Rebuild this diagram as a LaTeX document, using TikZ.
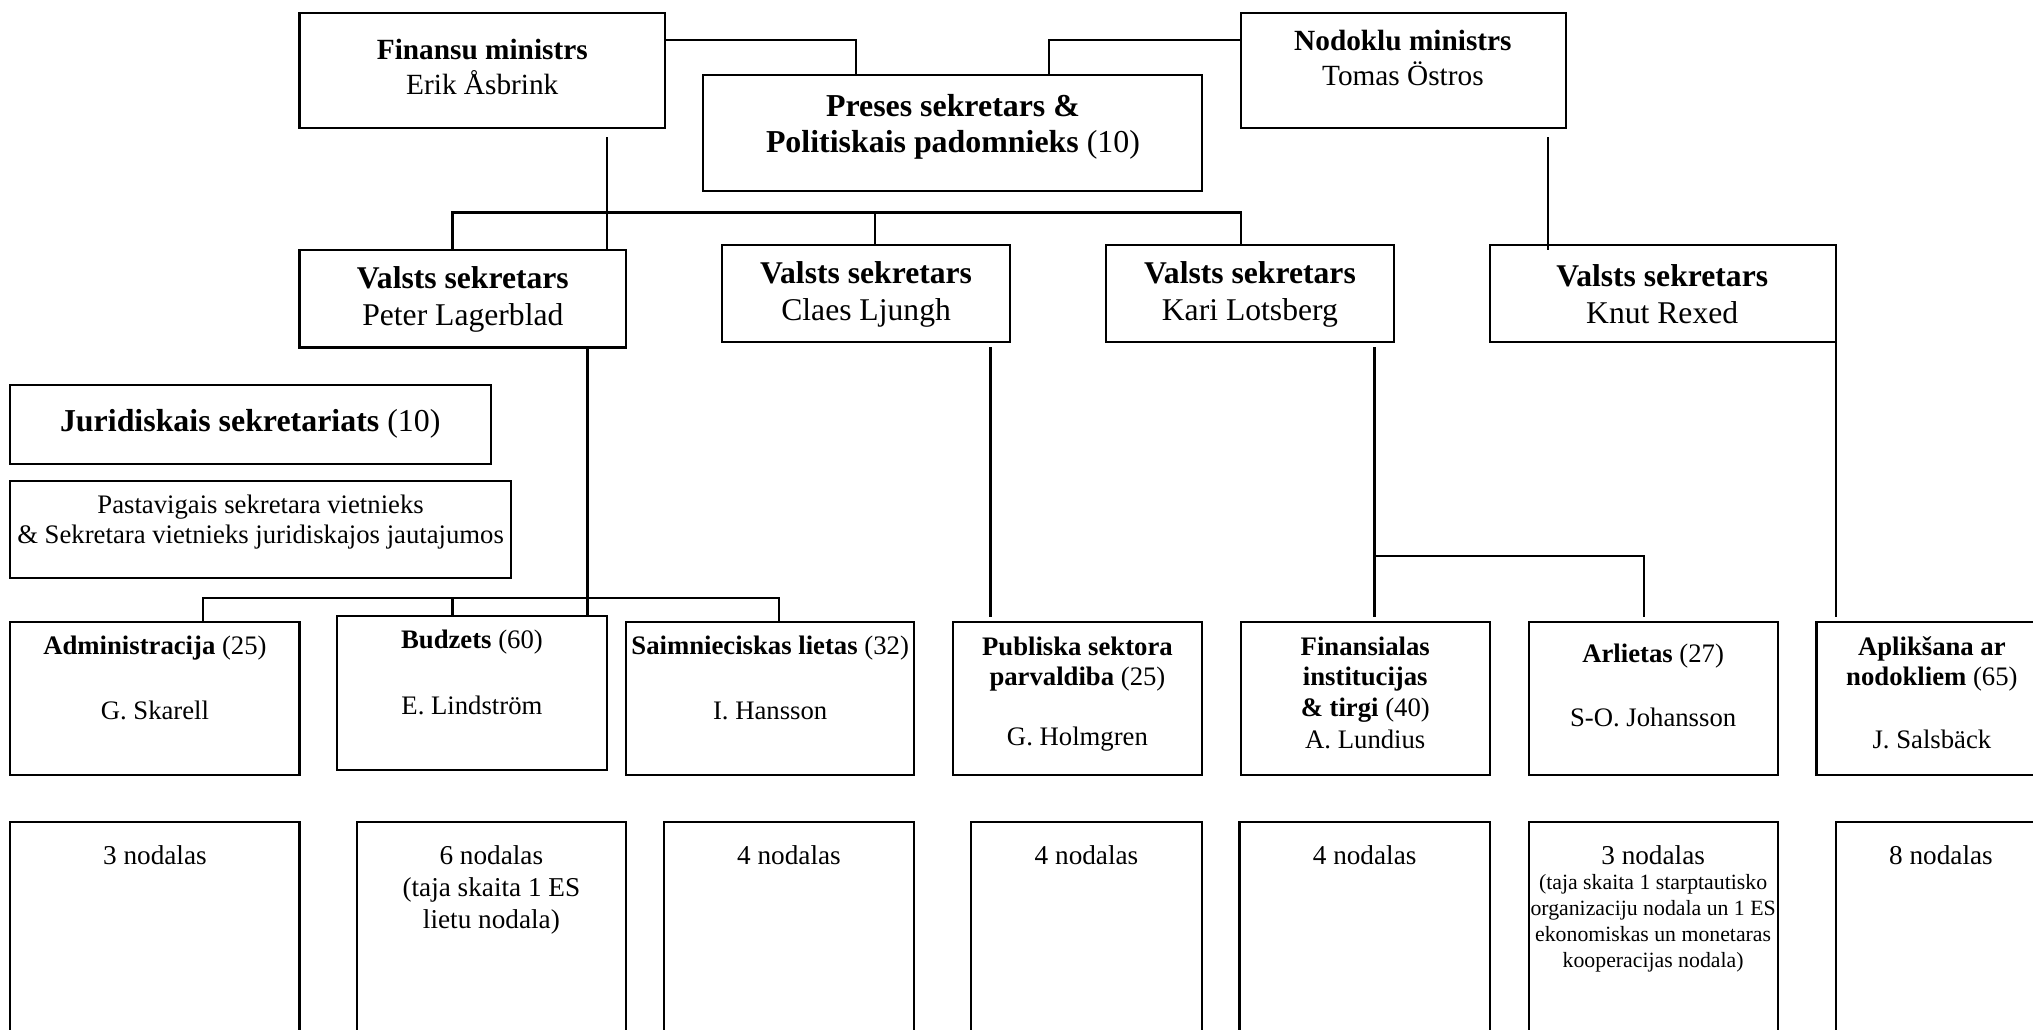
\documentclass[tikz,border=0pt]{standalone}
\usepackage{fontspec}
\setmainfont{Liberation Serif}
\usetikzlibrary{fit}
\newcommand{\fMin}{\fontsize{11.3}{13.5}\selectfont}
\newcommand{\fPre}{\fontsize{12.3}{14}\selectfont}
\newcommand{\fVal}{\fontsize{12.2}{14.5}\selectfont}
\newcommand{\fSmall}{\fontsize{10.3}{11.6}\selectfont}
\newcommand{\fDep}{\fontsize{10.3}{11.7}\selectfont}
\newcommand{\fBot}{\fontsize{10.5}{12.2}\selectfont}
\newcommand{\fTiny}{\fontsize{8.4}{10}\selectfont}
\begin{document}
\begin{tikzpicture}[x=0.5pt,y=-0.5pt,
  box/.style={draw,line width=0.8pt,inner sep=0pt,outer sep=0pt},
  txt/.style={align=center,inner sep=0pt},
  conn/.style={line width=0.9pt}]
\useasboundingbox (0,0) rectangle (1568,794);
\clip (0,0) rectangle (1568,794);
\fill[white] (0,0) rectangle (1568,794);
% row 0
\node[box,fit={(231,10) (513,99)}] (fin) {};
\node[box,fit={(542,58) (927,147)}] (pres) {};
\node[box,fit={(957,10) (1208,99)}] (nod) {};
\node[txt,font=\fMin] (fint) at (372,52) {\textbf{Finansu ministrs}\\Erik Åsbrink};
\node[txt,font=\fPre] (prest) at (735,98) {\textbf{Preses sekretars \&}\\\textbf{Politiskais padomnieks} (10)};
\node[txt,font=\fMin] (nodt) at (1082,45) {\textbf{Nodoklu ministrs}\\Tomas Östros};
% row 1
\node[box,fit={(231,193) (483,268)}] (vs1) {};
\node[box,fit={(557,189) (779,264)}] (vs2) {};
\node[box,fit={(853,189) (1075,264)}] (vs3) {};
\node[box,fit={(1149,189) (1416,264)}] (vs4) {};
\node[txt,font=\fVal] (vs1t) at (357,231) {\textbf{Valsts sekretars}\\Peter Lagerblad};
\node[txt,font=\fVal] (vs2t) at (668,227) {\textbf{Valsts sekretars}\\Claes Ljungh};
\node[txt,font=\fVal] (vs3t) at (964,227) {\textbf{Valsts sekretars}\\Kari Lotsberg};
\node[txt,font=\fVal] (vs4t) at (1282,227) {\textbf{Valsts sekretars}\\Knut Rexed};
% left boxes
\node[box,fit={(8,297) (379,358)}] (jur) {};
\node[txt,font=\fPre] (jurt) at (193,327) {\textbf{Juridiskais sekretariats} (10)};
\node[box,fit={(8,371) (394,446)}] (pas) {};
\node[txt,font=\fSmall] (past) at (201,403) {Pastavigais sekretara vietnieks\\\& Sekretara vietnieks juridiskajos jautajumos};
% row 2
\node[box,fit={(8,480) (231,598)}] (d1) {};
\node[box,fit={(260,475) (468,594)}] (d2) {};
\node[box,fit={(483,480) (705,598)}] (d3) {};
\node[box,fit={(735,480) (927,598)}] (d4) {};
\node[box,fit={(957,480) (1149,598)}] (d5) {};
\node[box,fit={(1179,480) (1371,598)}] (d6) {};
\node[box,fit={(1401,480) (1580,598)}] (d7) {};
\node[txt,font=\fDep] (d1a) at (119.5,500) {\textbf{Administracija} (25)};
\node[txt,font=\fDep] (d1b) at (119.5,548) {G. Skarell};
\node[txt,font=\fDep] (d2a) at (364,495) {\textbf{Budzets} (60)};
\node[txt,font=\fDep] (d2b) at (364,544) {E. Lindström};
\node[txt,font=\fDep] (d3a) at (594,500) {\textbf{Saimnieciskas lietas} (32)};
\node[txt,font=\fDep] (d3b) at (594,548) {I. Hansson};
\node[txt,font=\fDep] (d4a) at (831,512) {\textbf{Publiska sektora}\\\textbf{parvaldiba} (25)};
\node[txt,font=\fDep] (d4b) at (831,570) {G. Holmgren};
\node[txt,font=\fDep] (d5a) at (1053,524) {\textbf{Finansialas}\\\textbf{institucijas}\\\textbf{\& tirgi} (40)};
\node[txt,font=\fDep] (d5b) at (1053,570) {A. Lundius};
\node[txt,font=\fDep] (d6a) at (1275,506) {\textbf{Arlietas} (27)};
\node[txt,font=\fDep] (d6b) at (1275,553) {S-O. Johansson};
\node[txt,font=\fDep] (d7a) at (1490,512) {\textbf{Aplikšana ar}\\\textbf{nodokliem} (65)};
\node[txt,font=\fDep] (d7b) at (1490,570) {J. Salsbäck};
% row 3
\node[box,fit={(8,634) (231,830)}] (n1) {};
\node[box,fit={(275,634) (483,830)}] (n2) {};
\node[box,fit={(512,634) (705,830)}] (n3) {};
\node[box,fit={(749,634) (927,830)}] (n4) {};
\node[box,fit={(956,634) (1149,830)}] (n5) {};
\node[box,fit={(1179,634) (1371,830)}] (n6) {};
\node[box,fit={(1416,634) (1580,830)}] (n7) {};
\node[txt,font=\fBot,anchor=north] (n1t) at (119.5,652) {3 nodalas};
\node[txt,font=\fBot,anchor=north] (n2t) at (379,652) {6 nodalas\\(taja skaita 1 ES\\lietu nodala)};
\node[txt,font=\fBot,anchor=north] (n3t) at (608.5,652) {4 nodalas};
\node[txt,font=\fBot,anchor=north] (n4t) at (838,652) {4 nodalas};
\node[txt,font=\fBot,anchor=north] (n5t) at (1052.5,652) {4 nodalas};
\node[txt,font=\fBot,anchor=north] (n6a) at (1275,652) {3 nodalas};
\node[txt,font=\fTiny,anchor=north] (n6b) at (1275,674) {(taja skaita 1 starptautisko\\organizaciju nodala un 1 ES\\ekonomiskas un monetaras\\kooperacijas nodala)};
\node[txt,font=\fBot,anchor=north] (n7t) at (1497,652) {8 nodalas};
% connectors
\draw[conn] (fin.east |- 0,31) -| (660,0 |- pres.north);
\draw[conn] (nod.west |- 0,31) -| (809,0 |- pres.north);
\draw[conn] ([yshift=-3.5pt]fin.south -| 468,0) -- (468,0 |- vs1.north);
\draw[conn] (349,0 |- vs1.north) |- (957,164) -- (957,0 |- vs3.north);
\draw[conn] (675,164) -- (675,0 |- vs2.north);
\draw[conn] ([yshift=-3.5pt]nod.south -| 1194,0) -- ([yshift=-2pt]1194,0 |- vs4.north);
\draw[conn] (vs1.south -| 453,0) -- (453,0 |- d2.north);
\draw[conn] (156.5,0 |- d1.north) |- (601,461) -- (601,0 |- d3.north);
\draw[conn] (349,461) -- (349,0 |- d2.north);
\draw[conn] ([yshift=-2pt]vs2.south -| 764,0) -- ([yshift=2pt]764,0 |- d4.north);
\draw[conn] ([yshift=-2pt]vs3.south -| 1060,0) -- ([yshift=2pt]1060,0 |- d5.north);
\draw[conn] (1060,429) -| ([yshift=2pt]1268,0 |- d6.north);
\draw[conn] ([yshift=4.5pt]vs4.south east) -- ([yshift=2pt]vs4.south east |- d7.north);
\end{tikzpicture}
\end{document}
